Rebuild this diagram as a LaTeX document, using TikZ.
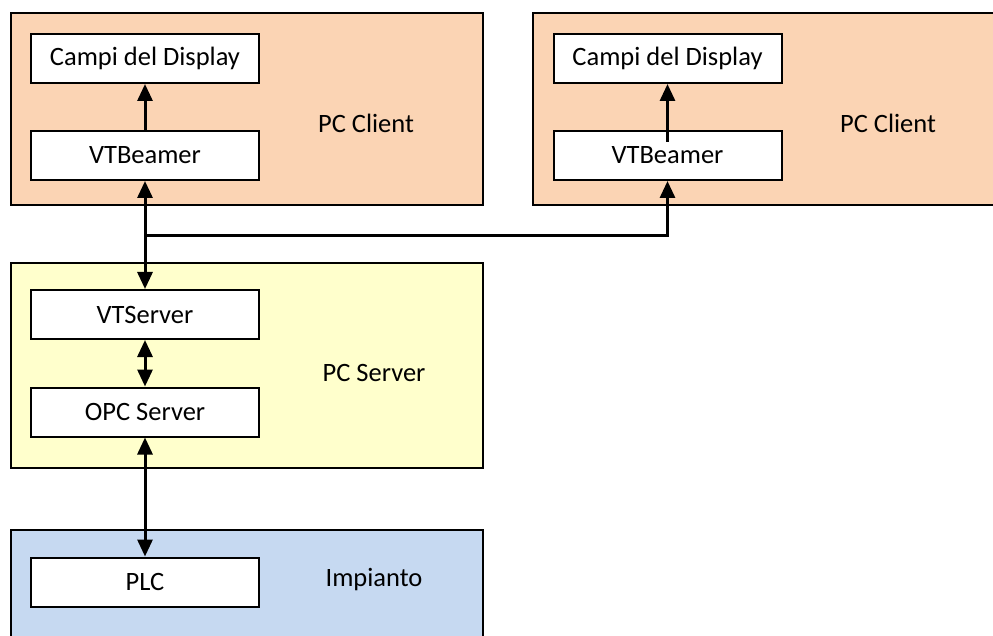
\documentclass[tikz,border=0pt]{standalone}
\usepackage{fontspec}
\setmainfont{Carlito}
\usetikzlibrary{arrows.meta,calc}

\definecolor{clientcol}{HTML}{FBD4B4}
\definecolor{servercol}{HTML}{FFFFCC}
\definecolor{plantcol}{HTML}{C6D9F1}

\tikzset{
	layer/.style={draw,line width=2.2pt,anchor=north west,inner sep=0pt},
	block/.style={draw,fill=white,line width=2pt,minimum width=228pt,minimum height=49pt,inner sep=0pt,font=\fontsize{26.5}{31}\selectfont},
	conn/.style={line width=3pt,-{Triangle[length=17pt,width=15pt]}},
	both/.style={line width=3pt,{Triangle[length=17pt,width=15pt]}-{Triangle[length=17pt,width=15pt]}},
	caption/.style={font=\fontsize{26.5}{31}\selectfont}
}

\begin{document}
\begin{tikzpicture}[x=1pt,y=-1pt]
	\path[use as bounding box,clip] (0,0) rectangle (993,636);
	\node[layer,fill=clientcol,minimum width=472.5pt,minimum height=192pt] (clientA) at (9.5,12) {};
	\node[layer,fill=clientcol,minimum width=470pt,minimum height=192pt] (clientB) at (532,12) {};
	\node[layer,fill=servercol,minimum width=472.5pt,minimum height=205pt] (server) at (9.5,262) {};
	\node[layer,fill=plantcol,minimum width=472.5pt,minimum height=120pt] (plant) at (9.5,529) {};
	\node[caption] (lblClientA) at (366,123) {PC Client};
	\node[caption] (lblClientB) at (888,123) {PC Client};
	\node[caption] (lblServer) at (374,373) {PC Server};
	\node[caption] (lblPlant) at (374,580) {Impianto};
	\node[block] (campiA) at (145,58.5) {Campi del Display};
	\node[block] (beamerA) at (145,155.5) {VTBeamer};
	\node[block] (campiB) at (667.5,58.5) {Campi del Display};
	\node[block] (beamerB) at (667.5,155.5) {VTBeamer};
	\node[block] (vtserver) at (145,314.5) {VTServer};
	\node[block] (opc) at (145,412) {OPC Server};
	\node[block] (plc) at (145,582) {PLC};
	\coordinate (bus) at (145,236);
	\draw[conn] (beamerA) -- (campiA);
	\draw[conn] ($(beamerB.north)+(0,12)$) -- (campiB);
	\draw[both] (beamerA) -- (vtserver);
	\draw[conn] (bus) -| (beamerB);
	\draw[both] (vtserver) -- (opc);
	\draw[both] (opc) -- (plc);
\end{tikzpicture}
\end{document}
